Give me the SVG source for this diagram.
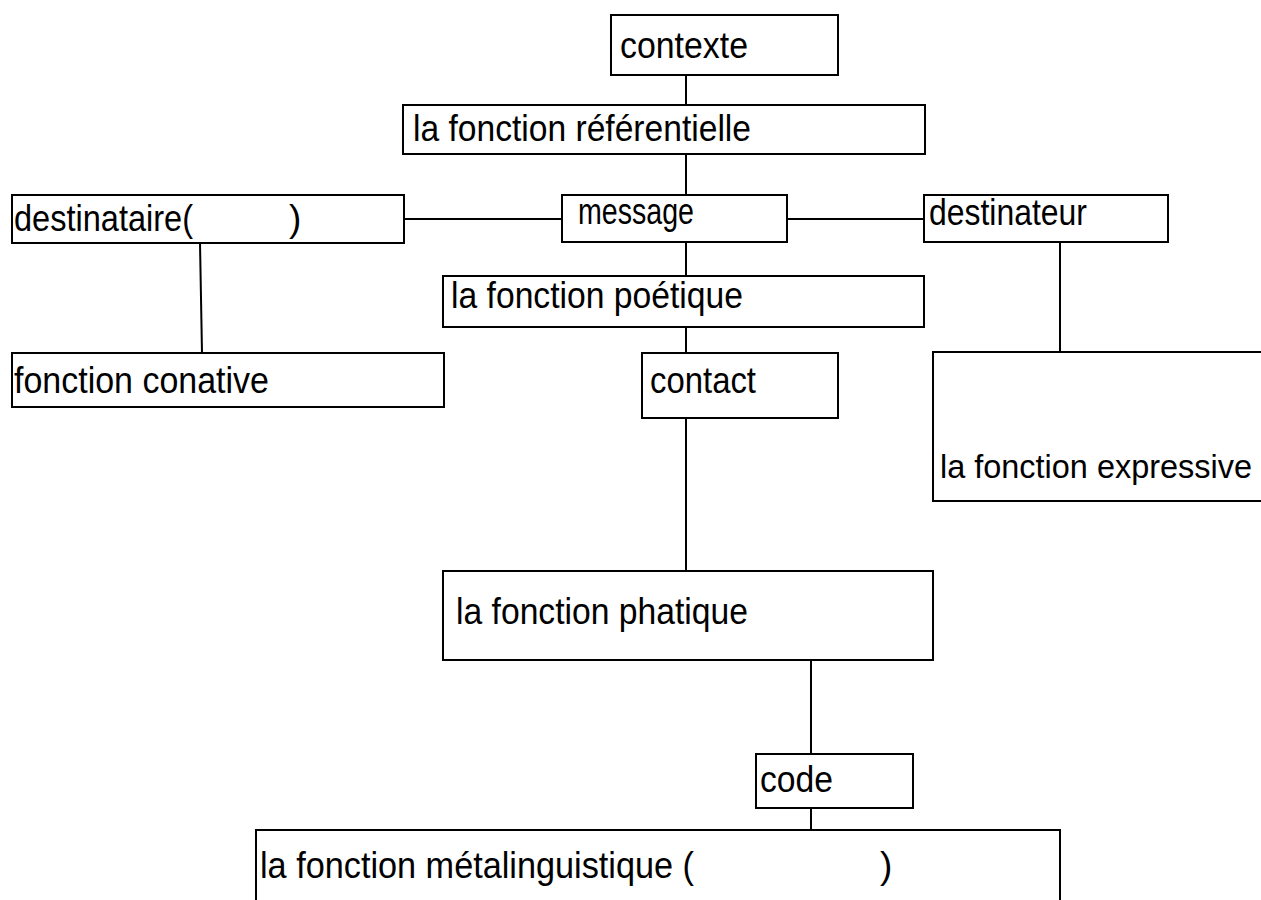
<svg xmlns="http://www.w3.org/2000/svg" width="1261" height="900" viewBox="0 0 1261 900">
<style>
.box{fill:#fff;stroke:#000;stroke-width:2}
.t{font-family:"Liberation Sans Narrow","Liberation Sans",Arial,sans-serif;font-size:37px;fill:#000}
.c{stroke:#000;stroke-width:2;fill:none}
</style>
<rect width="1261" height="900" fill="#fff"/>
<g id="connectors">
<line class="c" x1="686" y1="75" x2="686" y2="105"/>
<line class="c" x1="686" y1="154" x2="686" y2="195"/>
<line class="c" x1="404" y1="219" x2="562" y2="219"/>
<line class="c" x1="787" y1="219" x2="924" y2="219"/>
<line class="c" x1="686" y1="237" x2="686" y2="276"/>
<line class="c" x1="200" y1="243" x2="202" y2="353"/>
<line class="c" x1="1060" y1="242" x2="1060" y2="352"/>
<line class="c" x1="686" y1="327" x2="686" y2="353"/>
<line class="c" x1="686" y1="418" x2="686" y2="571"/>
<line class="c" x1="811" y1="660" x2="811" y2="754"/>
<line class="c" x1="811" y1="808" x2="811" y2="830"/>
</g>
<g id="contexte">
<rect class="box" x="611" y="15" width="227" height="60"/>
<text class="t" x="620" y="58" textLength="128" lengthAdjust="spacingAndGlyphs">contexte</text>
</g>
<g id="referentielle">
<rect class="box" x="403" y="105" width="522" height="49"/>
<text class="t" x="413" y="141" textLength="338" lengthAdjust="spacingAndGlyphs">la fonction référentielle</text>
</g>
<g id="destinataire">
<rect class="box" x="12" y="195" width="392" height="48"/>
<text class="t" x="14" y="231" textLength="179" lengthAdjust="spacingAndGlyphs">destinataire(</text>
<text class="t" x="289" y="231">)</text>
</g>
<g id="message">
<rect class="box" x="562" y="195" width="225" height="47"/>
<text class="t" x="578" y="224" textLength="116" lengthAdjust="spacingAndGlyphs">message</text>
</g>
<g id="destinateur">
<rect class="box" x="924" y="195" width="244" height="47"/>
<text class="t" x="929" y="225" textLength="158" lengthAdjust="spacingAndGlyphs">destinateur</text>
</g>
<g id="poetique">
<rect class="box" x="443" y="276" width="481" height="51"/>
<text class="t" x="451" y="308" textLength="292" lengthAdjust="spacingAndGlyphs">la fonction poétique</text>
</g>
<g id="conative">
<rect class="box" x="12" y="353" width="432" height="54"/>
<text class="t" x="14" y="393" textLength="255" lengthAdjust="spacingAndGlyphs">fonction conative</text>
</g>
<g id="contact">
<rect class="box" x="642" y="353" width="196" height="65"/>
<text class="t" x="650" y="393" textLength="106" lengthAdjust="spacingAndGlyphs">contact</text>
</g>
<g id="expressive">
<path class="box" d="M1261,352 H933 V501 H1261"/>
<text class="t" x="940" y="478" style="font-size:33px" textLength="312" lengthAdjust="spacingAndGlyphs">la fonction expressive</text>
</g>
<g id="phatique">
<rect class="box" x="443" y="571" width="490" height="89"/>
<text class="t" x="456" y="624" textLength="292" lengthAdjust="spacingAndGlyphs">la fonction phatique</text>
</g>
<g id="code">
<rect class="box" x="756" y="754" width="157" height="54"/>
<text class="t" x="760" y="792" textLength="73" lengthAdjust="spacingAndGlyphs">code</text>
</g>
<g id="metalinguistique">
<path class="box" d="M256,900 V830 H1060 V900"/>
<text class="t" x="260" y="878" textLength="434" lengthAdjust="spacingAndGlyphs">la fonction métalinguistique (</text>
<text class="t" x="880" y="878">)</text>
</g>
</svg>
